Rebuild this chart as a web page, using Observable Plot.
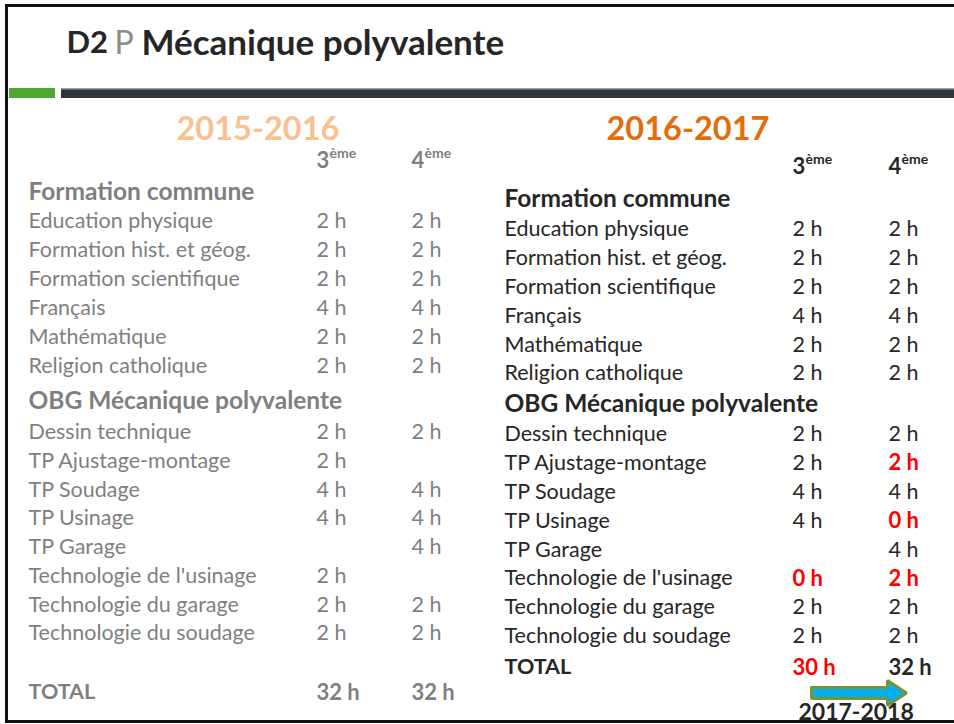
<!DOCTYPE html>
<html>
<head>
<meta charset="utf-8">
<script src="https://cdn.jsdelivr.net/npm/d3@7"></script>
<script src="https://cdn.jsdelivr.net/npm/@observablehq/plot@0.6"></script>
<style>
  html, body { margin: 0; padding: 0; background: #fff; }
  #chart svg { display: block; }
</style>
</head>
<body>
<div id="chart"></div>
<script>
// ---------- DATA ----------
const slideTitle = ["D2", "P", "Mécanique polyvalente"];
const years = ["2015-2016", "2016-2017"];
const nextYear = "2017-2018";
const grades = ["3", "4"];
const gradeSuffix = "ème";
const sectionTitles = ["Formation commune", "OBG Mécanique polyvalente"];
const commonSubjects = ["Education physique", "Formation hist. et géog.", "Formation scientifique", "Français", "Mathématique", "Religion catholique"];
const obgSubjects = ["Dessin technique", "TP Ajustage-montage", "TP Soudage", "TP Usinage", "TP Garage", "Technologie de l'usinage", "Technologie du garage", "Technologie du soudage"];
// hours per subject (common subjects first, then OBG subjects); null = no course
const hours2015_3 = [2, 2, 2, 4, 2, 2, 2, 2, 4, 4, null, 2, 2, 2];
const hours2015_4 = [2, 2, 2, 4, 2, 2, 2, null, 4, 4, 4, null, 2, 2];
const hours2016_3 = [2, 2, 2, 4, 2, 2, 2, 2, 4, 4, null, 0, 2, 2];
const hours2016_4 = [2, 2, 2, 4, 2, 2, 2, 2, 4, 0, 4, 2, 2, 2];
const changed2016_3 = ["Technologie de l'usinage"];
const changed2016_4 = ["TP Ajustage-montage", "TP Usinage", "Technologie de l'usinage"];
const totalLabel = "TOTAL";
const totals2015 = [32, 32];
const totals2016 = [30, 32];
const totalChanged2016 = [true, false];

// ---------- LAYOUT (code, not data) ----------
const W = 954, H = 724;
const FONT = "Lato, 'Open Sans', sans-serif";
const GRAY = "#7f7f7f", DARK = "#262626", RED = "#ff0000";
const tables = [
  {year: years[0], yearColor: "#fac090", yearX: 176, yearY: 129,
   color: GRAY, labelX: 28, colX: [316, 411], gradeY: 160,
   fcY: 192, fcStart: 221, fcStep: 29, obgY: 401, obgStart: 432, obgStep: 28.7, totalY: 692,
   h3: hours2015_3, h4: hours2015_4, ch3: [], ch4: [], totals: totals2015, totCh: [false, false]},
  {year: years[1], yearColor: "#e46c0a", yearX: 606, yearY: 129,
   color: DARK, labelX: 504, colX: [792, 888], gradeY: 166,
   fcY: 199, fcStart: 229, fcStep: 28.8, obgY: 404, obgStart: 434, obgStep: 28.8, totalY: 667,
   h3: hours2016_3, h4: hours2016_4, ch3: changed2016_3, ch4: changed2016_4, totals: totals2016, totCh: totalChanged2016}
];

const labels = [], headers = [], values = [], gradeHeads = [], yearHeads = [];
for (const t of tables) {
  yearHeads.push({x: t.yearX, y: t.yearY, text: t.year, color: t.yearColor});
  grades.forEach((g, i) => gradeHeads.push({x: t.colX[i], y: t.gradeY, g, color: t.color}));
  headers.push({x: t.labelX, y: t.fcY, text: sectionTitles[0], color: t.color});
  headers.push({x: t.labelX, y: t.obgY, text: sectionTitles[1], color: t.color});
  labels.push({x: t.labelX, y: t.totalY, text: totalLabel, color: t.color, bold: true});
  const subjects = commonSubjects.concat(obgSubjects);
  subjects.forEach((s, i) => {
    const y = i < commonSubjects.length
      ? t.fcStart + i * t.fcStep
      : t.obgStart + (i - commonSubjects.length) * t.obgStep;
    labels.push({x: t.labelX, y, text: s, color: t.color, bold: false});
    [[t.h3, t.ch3], [t.h4, t.ch4]].forEach(([h, ch], c) => {
      if (h[i] == null) return;
      const changed = ch.includes(s);
      values.push({x: t.colX[c], y, text: `${h[i]} h`, color: changed ? RED : t.color, bold: changed});
    });
  });
  t.totals.forEach((v, c) => values.push({x: t.colX[c], y: t.totalY, text: `${v} h`, color: t.totCh[c] ? RED : t.color, bold: true}));
}

// arrow polygon (decoration)
const ax = 811, ay = 692.5, bodyH = 11, bodyL = 76, headL = 19, headH = 25;
const arrow = [
  [ax, ay - bodyH / 2], [ax + bodyL, ay - bodyH / 2], [ax + bodyL, ay - headH / 2],
  [ax + bodyL + headL, ay], [ax + bodyL, ay + headH / 2], [ax + bodyL, ay + bodyH / 2],
  [ax, ay + bodyH / 2], [ax, ay - bodyH / 2]
];

const txt = (data, opts) => Plot.text(data, {x: "x", y: "y", text: "text", fill: "color",
  textAnchor: "start", lineAnchor: "middle", fontFamily: FONT, ...opts});

const plot = Plot.plot({
  width: W, height: H,
  margin: 0,
  x: {domain: [0, W], range: [0, W], axis: null},
  y: {domain: [0, H], range: [0, H], axis: null},
  style: {background: "#fff", fontFamily: FONT},
  marks: [
    // header bars
    Plot.rect([0], {x1: 9, x2: 55, y1: 88, y2: 98, fill: "#4ea72e"}),
    Plot.rect([0], {x1: 61, x2: W, y1: 88, y2: 98, fill: "#30353a"}),
    Plot.rect([0], {x1: 61, x2: W, y1: 88, y2: 89.5, fill: "#9aa0a6"}),
    // title
    Plot.text([slideTitle[0]], {x: 66, y: 43, text: d => d, fill: DARK, fontWeight: "bold", fontSize: 31, textAnchor: "start", lineAnchor: "middle", fontFamily: FONT}),
    Plot.text([slideTitle[1]], {x: 114, y: 43, text: d => d, fill: "#8c8c8c", fontSize: 32, textAnchor: "start", lineAnchor: "middle", fontFamily: FONT}),
    Plot.text([slideTitle[2]], {x: 141, y: 43, text: d => d, fill: DARK, fontWeight: "bold", fontSize: 35, textAnchor: "start", lineAnchor: "middle", fontFamily: FONT}),
    // years
    txt(yearHeads, {fontWeight: "bold", fontSize: 32.5}),
    // grade headers
    Plot.text(gradeHeads, {x: "x", y: "y", text: "g", fill: "color", fontWeight: "bold", fontSize: 22, textAnchor: "start", lineAnchor: "middle", fontFamily: FONT}),
    Plot.text(gradeHeads, {x: "x", y: "y", text: () => gradeSuffix, fill: "color", fontWeight: "bold", fontSize: 14, dx: 13, dy: -7, textAnchor: "start", lineAnchor: "middle", fontFamily: FONT}),
    // section headers
    txt(headers, {fontSize: 24.5, fontWeight: "bold"}),
    // labels
    txt(labels.filter(d => !d.bold), {fontSize: 21.5}),
    txt(labels.filter(d => d.bold), {fontSize: 21.5, fontWeight: "bold"}),
    // values
    txt(values.filter(d => !d.bold), {fontSize: 21.5}),
    txt(values.filter(d => d.bold), {fontSize: 22, fontWeight: "bold"}),
    // arrow & next year
    Plot.line(arrow, {x: d => d[0], y: d => d[1], fill: "#00b0f0", stroke: "#77933c", strokeWidth: 3, strokeLinejoin: "miter"}),
    Plot.text([nextYear], {x: 798, y: 712, text: d => d, fill: DARK, fontWeight: "bold", fontSize: 23, textAnchor: "start", lineAnchor: "middle", fontFamily: FONT}),
    // slide border
    Plot.frame({stroke: "#111", strokeWidth: 3, insetLeft: 6, insetTop: 5, insetBottom: 3, insetRight: -6})
  ]
});
document.getElementById("chart").append(plot);
</script>
</body>
</html>
